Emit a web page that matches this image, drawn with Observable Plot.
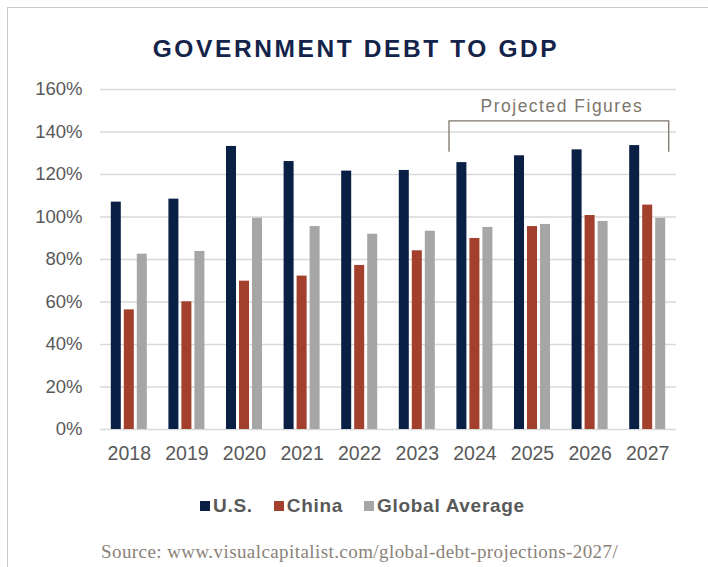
<!DOCTYPE html>
<html>
<head>
<meta charset="utf-8">
<script src="https://cdn.jsdelivr.net/npm/d3@7"></script>
<script src="https://cdn.jsdelivr.net/npm/@observablehq/plot@0.6"></script>
<style>
  html, body { margin: 0; padding: 0; background: #fff; }
  #wrap { position: relative; width: 708px; height: 567px; overflow: hidden; background: #fff; font-family: "Liberation Sans", Arial, sans-serif; }
  #frame { position: absolute; left: 7px; top: 7px; right: -2px; bottom: -2px; border-left: 1.5px solid #c9c9c9; border-top: 1.5px solid #c9c9c9; }
  #title { position: absolute; top: 36.5px; left: 0; width: 712px; text-align: center; font-weight: bold; font-size: 24.5px; line-height: 24.5px; letter-spacing: 2.6px; color: #13234a; }
  #chart { position: absolute; left: 0; top: 0; }
  #legend { position: absolute; top: 496px; left: 200px; display: flex; align-items: center; font-weight: bold; font-size: 19px; line-height: 19px; letter-spacing: 0.7px; color: #595959; }
  #legend .sw { display: inline-block; width: 10px; height: 10px; margin-right: 3px; }
  #legend .it { display: flex; align-items: center; margin-right: 21px; }
  #source { position: absolute; top: 542px; left: 101px; font-family: "Liberation Serif", "DejaVu Serif", serif; font-size: 19px; line-height: 19px; letter-spacing: 0.42px; color: #8a8279; }
</style>
</head>
<body>
<div id="wrap">
  <div id="frame"></div>
  <div id="title"></div>
  <div id="chart"></div>
  <div id="legend"></div>
  <div id="source"></div>
</div>
<script>
const titleText = "GOVERNMENT DEBT TO GDP";
const sourceText = "Source: www.visualcapitalist.com/global-debt-projections-2027/";
const years = ["2018", "2019", "2020", "2021", "2022", "2023", "2024", "2025", "2026", "2027"];
const seriesNames = ["U.S.", "China", "Global Average"];
const seriesColors = ["#0a1f44", "#a3402d", "#a6a6a6"];
const usDebt = [107.0, 108.4, 133.2, 126.1, 121.6, 121.9, 125.6, 128.8, 131.6, 133.6];
const chinaDebt = [56.3, 60.1, 69.8, 72.2, 77.2, 84.1, 89.9, 95.5, 100.7, 105.6];
const globalDebt = [82.5, 83.8, 99.4, 95.5, 91.9, 93.3, 95.1, 96.5, 97.9, 99.4];
const yTicks = [0, 20, 40, 60, 80, 100, 120, 140, 160];
const projectedLabel = "Projected Figures";
const projectedStart = "2024";
const projectedEnd = "2027";

const rows = years.map((year, i) => ({year, us: usDebt[i], china: chinaDebt[i], global: globalDebt[i]}));

function bracket(index, scales) {
  const sx = scales.x, sy = scales.y;
  const bw = typeof sx.bandwidth === "function" ? sx.bandwidth() : (sx.bandwidth ?? scales.scales?.x?.bandwidth ?? 36);
  const left = sx(projectedStart) - 7.4;
  const right = sx(projectedEnd) + bw + 3.5;
  const top = sy(145);
  const bottom = sy(130.5);
  const g = d3.create("svg:g");
  g.append("path")
    .attr("d", `M${left},${bottom}V${top}H${right}V${bottom}`)
    .attr("fill", "none")
    .attr("stroke", "#7d766c")
    .attr("stroke-width", 1.3);
  g.append("text")
    .attr("x", (left + right) / 2 + 3)
    .attr("y", sy(149.4))
    .attr("text-anchor", "middle")
    .attr("fill", "#7d766c")
    .attr("font-size", 17.5)
    .attr("letter-spacing", 1.5)
    .text(projectedLabel);
  return g.node();
}

const chart = Plot.plot({
  width: 708,
  height: 470,
  marginLeft: 100,
  marginRight: 32,
  marginTop: 89,
  marginBottom: 41,
  style: {fontFamily: "'Liberation Sans', Arial, sans-serif", color: "#595959", background: "transparent", overflow: "visible"},
  x: {domain: years, paddingInner: 0.375, paddingOuter: 0.1875, round: false, label: null},
  y: {domain: [0, 160], label: null},
  marks: [
    Plot.ruleY(yTicks, {stroke: "#d9d9d9", strokeWidth: 1.4}),
    Plot.barY(rows, {x: "year", y: "us", fill: seriesColors[0], insetLeft: 0, insetRight: 26}),
    Plot.barY(rows, {x: "year", y: "china", fill: seriesColors[1], insetLeft: 13, insetRight: 13}),
    Plot.barY(rows, {x: "year", y: "global", fill: seriesColors[2], insetLeft: 26, insetRight: 0}),
    Plot.axisY(yTicks, {tickSize: 0, tickPadding: 18, tickFormat: d => d + "%", fontSize: 18.5, letterSpacing: 1.2}),
    Plot.axisX({tickSize: 0, tickPadding: 17, fontSize: 19.5, letterSpacing: 0.3}),
    bracket
  ]
});
document.getElementById("chart").appendChild(chart);
document.getElementById("title").textContent = titleText;
document.getElementById("source").textContent = sourceText;

const legend = document.getElementById("legend");
seriesNames.forEach((name, i) => {
  const it = document.createElement("span");
  it.className = "it";
  const sw = document.createElement("span");
  sw.className = "sw";
  sw.style.background = seriesColors[i];
  const tx = document.createElement("span");
  tx.textContent = name;
  it.appendChild(sw);
  it.appendChild(tx);
  legend.appendChild(it);
});
</script>
</body>
</html>
